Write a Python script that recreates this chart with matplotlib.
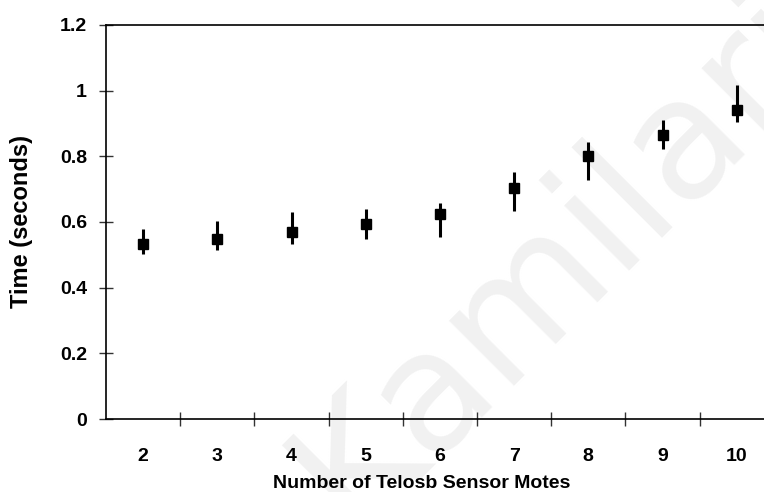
import matplotlib
matplotlib.use("Agg")
import matplotlib.pyplot as plt
import numpy as np

# Number of motes on the x axis and measured time statistics
motes = [2, 3, 4, 5, 6, 7, 8, 9, 10]
mean_time = [0.532, 0.547, 0.569, 0.593, 0.623, 0.703, 0.801, 0.866, 0.940]
upper_time = [0.580, 0.603, 0.630, 0.640, 0.657, 0.751, 0.843, 0.910, 1.017]
lower_time = [0.502, 0.516, 0.534, 0.548, 0.555, 0.634, 0.727, 0.821, 0.905]
y_ticks = [0, 0.2, 0.4, 0.6, 0.8, 1.0, 1.2]
y_tick_labels = ["0", "0.2", "0.4", "0.6", "0.8", "1", "1.2"]

plt.rcParams["font.family"] = ["Liberation Sans", "DejaVu Sans"]

W, H = 764, 492
fig = plt.figure(figsize=(W / 100, H / 100), dpi=100)
fig.patch.set_facecolor("white")

# light diagonal watermark behind everything
fig.text(352, H - 532, "Kamilaris", transform=None, fontsize=120, color="#f1f1f1",
         rotation=45, rotation_mode="anchor", ha="left", va="baseline",
         family="DejaVu Sans", zorder=-10)

ax_left, ax_bottom, ax_top = 106, 419, 25
ax_w = 9 * 74.2
ax = fig.add_axes([ax_left / W, (H - ax_bottom) / H, ax_w / W, (ax_bottom - ax_top) / H])
ax.patch.set_alpha(0)

pos = np.arange(len(motes))
mean = np.array(mean_time)
err = [mean - np.array(lower_time), np.array(upper_time) - mean]
ax.errorbar(pos, mean, yerr=err, fmt="s", color="black", ecolor="black",
            markersize=7, elinewidth=2.2, capsize=0, zorder=3)

ax.set_xlim(-0.5, len(motes) - 0.5)
ax.set_ylim(0, 1.2)

ax.set_xticks(pos)
ax.set_xticklabels([str(m) for m in motes], fontsize=14, fontweight="bold")
ax.set_xticks(np.arange(len(motes) - 1) + 0.5, minor=True)
ax.tick_params(axis="x", which="major", length=0, pad=21)
ax.tick_params(axis="x", which="minor", direction="inout", length=10, width=1, color="#333333")

ax.set_yticks(y_ticks)
ax.set_yticklabels(y_tick_labels, fontsize=14, fontweight="bold")
ax.tick_params(axis="y", direction="inout", length=9.5, width=1, pad=9, color="#333333")

for side in ["left", "bottom", "top"]:
    ax.spines[side].set_linewidth(1.2)
    ax.spines[side].set_color("black")
ax.spines["right"].set_visible(False)

fig.text(422, H - 483, "Number of Telosb Sensor Motes", transform=None,
         fontsize=14, fontweight="bold", ha="center", va="center")
fig.text(22, H - 222, "Time (seconds)", transform=None, rotation=90,
         fontsize=17, fontweight="bold", ha="center", va="center")

fig.savefig("out.png", dpi=100, facecolor="white")
